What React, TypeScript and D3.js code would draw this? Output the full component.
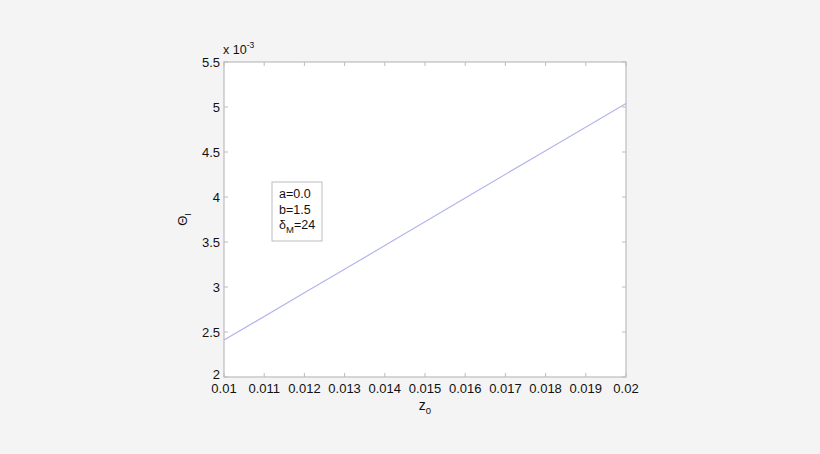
import { useEffect, useRef } from "react"
import * as d3 from "d3"

// z0 values and Theta_I (x 10^-3)
const zValues = [0.01, 0.012, 0.014, 0.016, 0.018, 0.02]
const thetaValues = [2.41, 2.935, 3.46, 3.99, 4.515, 5.04]
const xTicks = [0.01, 0.011, 0.012, 0.013, 0.014, 0.015, 0.016, 0.017, 0.018, 0.019, 0.02]
const yTicks = [2, 2.5, 3, 3.5, 4, 4.5, 5, 5.5]
const legendLines = ["a=0.0", "b=1.5", "δM=24"]

const width = 820
const height = 454
const margin = { top: 62, right: 194, bottom: 77, left: 224 }

export default function App() {
  const svgRef = useRef<SVGSVGElement>(null)

  useEffect(() => {
    document.body.style.margin = "0"
    if (!svgRef.current) return
    const svg = d3.select(svgRef.current)
    svg.selectAll("*").remove()

    const x = d3.scaleLinear().domain([0.01, 0.02]).range([margin.left, width - margin.right])
    const y = d3.scaleLinear().domain([2, 5.5]).range([height - margin.bottom, margin.top])
    const font = "'Liberation Sans', Arial, sans-serif"
    const axisColor = "#bcbcbc"

    svg.append("rect").attr("width", width).attr("height", height).attr("fill", "#f4f4f4")

    svg.append("rect")
      .attr("x", x(0.01)).attr("y", y(5.5))
      .attr("width", x(0.02) - x(0.01)).attr("height", y(2) - y(5.5))
      .attr("fill", "#fff").attr("stroke", axisColor).attr("stroke-width", 1.2)

    // ticks on all four sides, pointing inward
    const tickLen = 4
    const tg = svg.append("g").attr("stroke", axisColor).attr("stroke-width", 1)
    xTicks.forEach((t) => {
      tg.append("line").attr("x1", x(t)).attr("x2", x(t)).attr("y1", y(2)).attr("y2", y(2) - tickLen)
      tg.append("line").attr("x1", x(t)).attr("x2", x(t)).attr("y1", y(5.5)).attr("y2", y(5.5) + tickLen)
    })
    yTicks.forEach((t) => {
      tg.append("line").attr("x1", x(0.01)).attr("x2", x(0.01) + tickLen).attr("y1", y(t)).attr("y2", y(t))
      tg.append("line").attr("x1", x(0.02)).attr("x2", x(0.02) - tickLen).attr("y1", y(t)).attr("y2", y(t))
    })

    svg.append("g").selectAll("text").data(xTicks).enter().append("text")
      .attr("x", (d) => x(d)).attr("y", y(2) + 16)
      .attr("text-anchor", "middle")
      .attr("font-family", font).attr("font-size", 13).attr("fill", "#111")
      .text((d) => String(d))

    svg.append("g").selectAll("text").data(yTicks).enter().append("text")
      .attr("x", x(0.01) - 4).attr("y", (d) => y(d) + (d === 2 ? 1.5 : 4.5))
      .attr("text-anchor", "end")
      .attr("font-family", font).attr("font-size", 13).attr("fill", "#111")
      .text((d) => String(d))

    // x 10^-3 multiplier
    const mult = svg.append("text")
      .attr("x", x(0.01) - 1).attr("y", y(5.5) - 8)
      .attr("font-family", font).attr("font-size", 12.5).attr("fill", "#111")
    mult.append("tspan").text("x 10")
    mult.append("tspan").attr("dy", -6).attr("font-size", 8.5).text("-3")

    // axis labels
    const xl = svg.append("text")
      .attr("x", (x(0.01) + x(0.02)) / 2).attr("y", y(2) + 33)
      .attr("text-anchor", "middle")
      .attr("font-family", font).attr("font-size", 14).attr("fill", "#111")
    xl.append("tspan").text("z")
    xl.append("tspan").attr("dy", 4).attr("font-size", 9.5).text("0")

    const yl = svg.append("text")
      .attr("transform", `translate(${x(0.01) - 37},${(y(2) + y(5.5)) / 2}) rotate(-90)`)
      .attr("text-anchor", "middle")
      .attr("font-family", font).attr("font-size", 13).attr("fill", "#111")
    yl.append("tspan").text("Θ")
    yl.append("tspan").attr("dy", 4).attr("font-size", 9).text("I")

    // the curve
    const line = d3.line<number>()
      .x((_, i) => x(zValues[i]))
      .y((d) => y(d))
    svg.append("path")
      .datum(thetaValues)
      .attr("d", line)
      .attr("fill", "none")
      .attr("stroke", "#b4b4ee")
      .attr("stroke-width", 1.2)

    // annotation box
    const bx = 272, by = 182
    svg.append("rect")
      .attr("x", bx).attr("y", by).attr("width", 50).attr("height", 59)
      .attr("fill", "#fff").attr("stroke", axisColor).attr("stroke-width", 1)
    legendLines.forEach((txt, i) => {
      const t = svg.append("text")
        .attr("x", bx + 7).attr("y", by + 16 + i * 15.5)
        .attr("font-family", font).attr("font-size", 12.5).attr("fill", "#111")
      if (txt.startsWith("δ")) {
        t.append("tspan").text("δ")
        t.append("tspan").attr("dy", 4).attr("font-size", 9.5).text("M")
        t.append("tspan").attr("dy", -4).text("=24")
      } else {
        t.text(txt)
      }
    })
  }, [])

  return <svg ref={svgRef} width={width} height={height} style={{ display: "block" }} />
}
